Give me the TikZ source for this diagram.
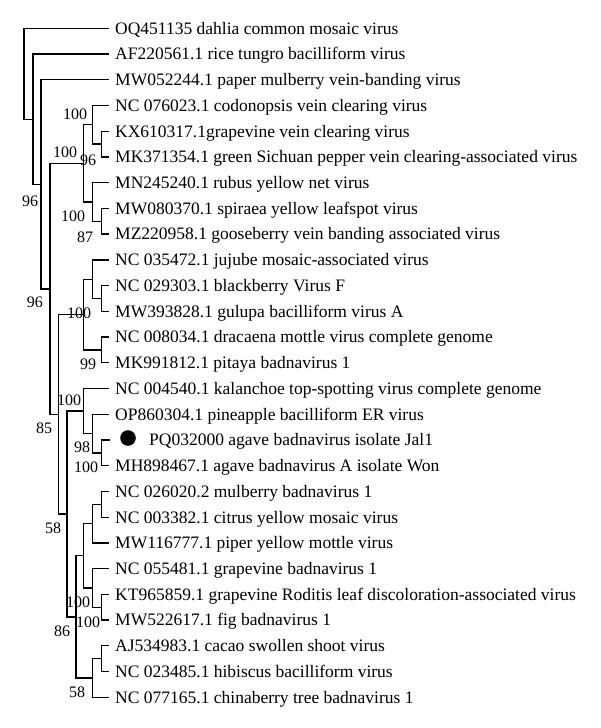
\documentclass[tikz,border=0pt]{standalone}
\usepackage{fontspec}
\setmainfont{Liberation Serif}
\begin{document}
\begin{tikzpicture}[x=1pt,y=-1pt,
  br/.style={line width=1.3pt, line join=miter},
  leaf/.style={anchor=west, inner xsep=6pt, inner ysep=0pt,
    font=\fontsize{17.5}{20}\selectfont, text height=15.75pt, text depth=4.15pt},
  bs/.style={anchor=center, inner sep=0pt,
    font=\fontsize{16}{18}\selectfont, text height=10.8pt, text depth=0pt}]
\fill[white] (0,0) rectangle (600,728);
\useasboundingbox (0,0) rectangle (600,728);

% leaves
\node[leaf] (l1)  at (109,28.3)  {OQ451135 dahlia common mosaic virus};
\node[leaf] (l2)  at (109,54.0)  {AF220561.1 rice tungro bacilliform virus};
\node[leaf] (l3)  at (109,79.8)  {MW052244.1 paper mulberry vein-banding virus};
\node[leaf] (l4)  at (109,105.5) {NC 076023.1 codonopsis vein clearing virus};
\node[leaf] (l5)  at (109,131.2) {KX610317.1grapevine vein clearing virus};
\node[leaf] (l6)  at (109,157.0) {MK371354.1 green Sichuan pepper vein clearing-associated virus};
\node[leaf] (l7)  at (109,182.7) {MN245240.1 rubus yellow net virus};
\node[leaf] (l8)  at (109,208.4) {MW080370.1 spiraea yellow leafspot virus};
\node[leaf] (l9)  at (109,234.1) {MZ220958.1 gooseberry vein banding associated virus};
\node[leaf] (l10) at (109,259.9) {NC 035472.1 jujube mosaic-associated virus};
\node[leaf] (l11) at (109,285.6) {NC 029303.1 blackberry Virus F};
\node[leaf] (l12) at (109,311.3) {MW393828.1 gulupa bacilliform virus A};
\node[leaf] (l13) at (109,337.1) {NC 008034.1 dracaena mottle virus complete genome};
\node[leaf] (l14) at (109,362.8) {MK991812.1 pitaya badnavirus 1};
\node[leaf] (l15) at (109,388.5) {NC 004540.1 kalanchoe top-spotting virus complete genome};
\node[leaf] (l16) at (109,414.3) {OP860304.1 pineapple bacilliform ER virus};
\coordinate (pqend) at (110,440.0);
\node[circle, fill=black, inner sep=0pt, minimum size=15.6pt] (dot) at (128,438) {};
\node[leaf] (l17) at (143,440.0) {PQ032000 agave badnavirus isolate Jal1};
\node[leaf] (l18) at (109,465.7) {MH898467.1 agave badnavirus A isolate Won};
\node[leaf] (l19) at (109,491.4) {NC 026020.2 mulberry badnavirus 1};
\node[leaf] (l20) at (109,517.2) {NC 003382.1 citrus yellow mosaic virus};
\node[leaf] (l21) at (109,542.9) {MW116777.1 piper yellow mottle virus};
\node[leaf] (l22) at (109,568.6) {NC 055481.1 grapevine badnavirus 1};
\node[leaf] (l23) at (109,594.4) {KT965859.1 grapevine Roditis leaf discoloration-associated virus};
\node[leaf] (l24) at (109,620.1) {MW522617.1 fig badnavirus 1};
\node[leaf] (l25) at (109,645.8) {AJ534983.1 cacao swollen shoot virus};
\node[leaf] (l26) at (109,671.6) {NC 023485.1 hibiscus bacilliform virus};
\node[leaf] (l27) at (109,697.3) {NC 077165.1 chinaberry tree badnavirus 1};

% internal nodes
\coordinate (root) at (24,73.7);
\coordinate (A) at (33,119.2);
\coordinate (B) at (41,184.3);
\coordinate (C) at (50,288.9);
\coordinate (D) at (83.5,163.4);
\coordinate (E) at (92.5,124.8);
\coordinate (Ep) at (101.5,144.1);
\coordinate (F) at (92.5,202.0);
\coordinate (Fp) at (101.5,221.3);
\coordinate (N4) at (58.5,414.3);
\coordinate (H) at (83.5,314.6);
\coordinate (G) at (92.5,279.2);
\coordinate (Gp) at (101.5,298.5);
\coordinate (Hp) at (101.5,350.0);
\coordinate (N5) at (67,514.0);
\coordinate (K) at (83.5,411.1);
\coordinate (Kp) at (92.5,433.6);
\coordinate (Kpp) at (101.5,452.9);
\coordinate (N6) at (76,616.9);
\coordinate (MG) at (83.5,555.8);
\coordinate (M1) at (92.5,523.6);
\coordinate (M2) at (101.5,504.3);
\coordinate (V) at (92.5,588.0);
\coordinate (Vp) at (101.5,607.3);
\coordinate (C1) at (92.5,678.0);
\coordinate (C2) at (101.5,658.7);

% branches
\draw[br] (root) |- (l1.west);  \draw[br] (root) |- (A);
\draw[br] (A) |- (l2.west);     \draw[br] (A) |- (B);
\draw[br] (B) |- (l3.west);     \draw[br] (B) |- (C);
\draw[br] (C) |- (D);           \draw[br] (C) |- (N4);
\draw[br] (D) |- (E);           \draw[br] (D) |- (F);
\draw[br] (E) |- (l4.west);     \draw[br] (E) |- (Ep);
\draw[br] (Ep) |- (l5.west);    \draw[br] (Ep) |- (l6.west);
\draw[br] (F) |- (l7.west);     \draw[br] (F) |- (Fp);
\draw[br] (Fp) |- (l8.west);    \draw[br] (Fp) |- (l9.west);
\draw[br] (N4) |- (H);          \draw[br] (N4) |- (N5);
\draw[br] (H) |- (G);           \draw[br] (H) |- (Hp);
\draw[br] (G) |- (l10.west);    \draw[br] (G) |- (Gp);
\draw[br] (Gp) |- (l11.west);   \draw[br] (Gp) |- (l12.west);
\draw[br] (Hp) |- (l13.west);   \draw[br] (Hp) |- (l14.west);
\draw[br] (N5) |- (K);          \draw[br] (N5) |- (N6);
\draw[br] (K) |- (l15.west);    \draw[br] (K) |- (Kp);
\draw[br] (Kp) |- (l16.west);   \draw[br] (Kp) |- (Kpp);
\draw[br] (Kpp) |- (pqend);     \draw[br] (Kpp) |- (l18.west);
\draw[br] (N6) |- (MG);         \draw[br] (N6) |- (C1);
\draw[br] (MG) |- (M1);         \draw[br] (MG) |- (V);
\draw[br] (M1) |- (M2);         \draw[br] (M1) |- (l21.west);
\draw[br] (M2) |- (l19.west);   \draw[br] (M2) |- (l20.west);
\draw[br] (V) |- (l22.west);    \draw[br] (V) |- (Vp);
\draw[br] (Vp) |- (l23.west);   \draw[br] (Vp) |- (l24.west);
\draw[br] (C1) |- (C2);         \draw[br] (C1) |- (l27.west);
\draw[br] (C2) |- (l25.west);   \draw[br] (C2) |- (l26.west);

% bootstrap values
\node[bs] (b1)  at (30,201)  {96};
\node[bs] (b2)  at (35,302)  {96};
\node[bs] (b3)  at (44,428)  {85};
\node[bs] (b4)  at (53,528)  {58};
\node[bs] (b5)  at (62,631)  {86};
\node[bs] (b6)  at (77,692)  {58};
\node[bs] (b7)  at (75,114)  {100};
\node[bs] (b8)  at (65,152)  {100};
\node[bs] (b9)  at (88,160)  {96};
\node[bs] (b10) at (73,216)  {100};
\node[bs] (b11) at (85,237)  {87};
\node[bs] (b12) at (79,313)  {100};
\node[bs] (b13) at (88,364)  {99};
\node[bs] (b14) at (69,400)  {100};
\node[bs] (b15) at (82,447)  {98};
\node[bs] (b16) at (86,467)  {100};
\node[bs] (b17) at (78,602)  {100};
\node[bs] (b18) at (88,622)  {100};
\end{tikzpicture}
\end{document}
